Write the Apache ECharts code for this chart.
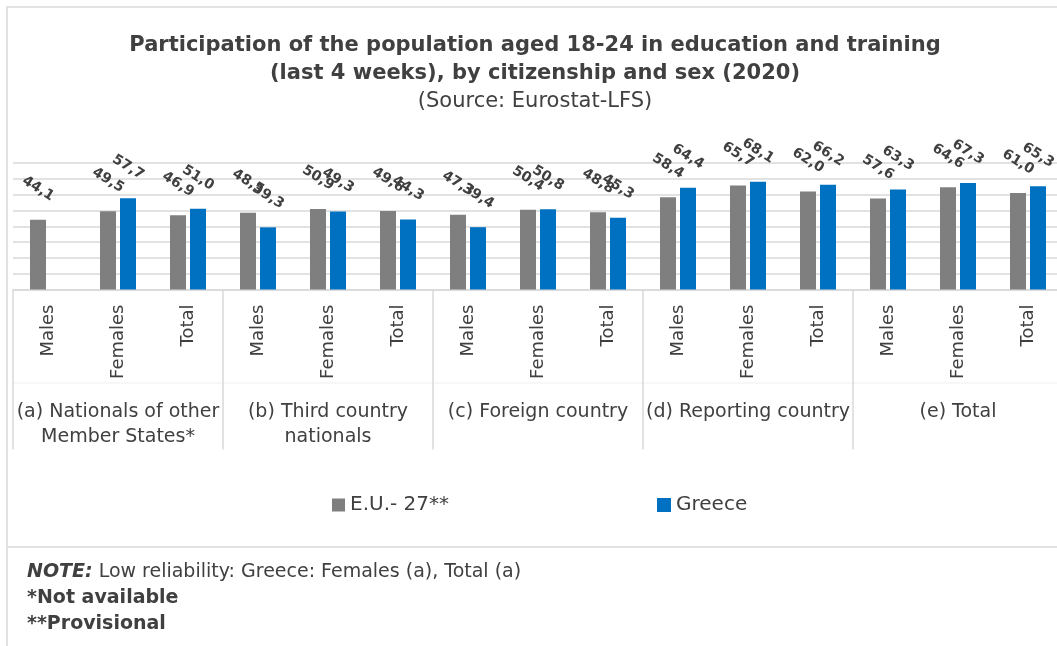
<!DOCTYPE html>
<html>
<head>
<meta charset="utf-8">
<script src="https://cdn.jsdelivr.net/npm/echarts@6/dist/echarts.min.js"></script>
<style>
  html, body { margin: 0; padding: 0; overflow: hidden; background: #fff; }
  #chart { width: 1070px; height: 646px; }
</style>
</head>
<body>
<div id="chart"></div>
<script>
// data
var sexes = ['Males', 'Females', 'Total'];
var groups = ['(a) Nationals of other\nMember States*', '(b) Third country\nnationals', '(c) Foreign country', '(d) Reporting country', '(e) Total'];
var categories = [];
groups.forEach(function () { categories = categories.concat(sexes); });

var euValues = [44.1, 49.5, 46.9, 48.5, 50.9, 49.6, 47.3, 50.4, 48.8, 58.4, 65.7, 62.0, 57.6, 64.6, 61.0];
var greeceValues = ['-', 57.7, 51.0, 39.3, 49.3, 44.3, 39.4, 50.8, 45.3, 64.4, 68.1, 66.2, 63.3, 67.3, 65.3];

var font = 'DejaVu Sans';
var textColor = '#404040';
var lineColor = '#d9d9d9';

var chart = echarts.init(document.getElementById('chart'));

function valueLabel(p) {
    return p.value.toFixed(1).replace('.', ',');
}

var labelStyle = {
    show: true,
    position: 'top',
    distance: 31,
    rotate: -32,
    align: 'center',
    verticalAlign: 'middle',
    color: textColor,
    fontFamily: font,
    fontWeight: 'bold',
    fontSize: 14,
    formatter: valueLabel
};

var legendText = { fontFamily: font, fontSize: 20, color: textColor };

var option = {
    animation: false,
    textStyle: { fontFamily: font },
    title: [
        {
            text: 'Participation of the population aged 18-24 in education and training\n(last 4 weeks), by citizenship and sex (2020)',
            left: 'center',
            top: 27,
            textStyle: { fontFamily: font, fontSize: 21, fontWeight: 'bold', color: textColor, lineHeight: 28 }
        },
        {
            text: '(Source: Eurostat-LFS)',
            left: 'center',
            top: 86,
            textStyle: { fontFamily: font, fontSize: 21, fontWeight: 'normal', color: textColor }
        }
    ],
    legend: [
        {
            left: 327, top: 490, itemWidth: 13, itemHeight: 13, itemGap: 6, icon: 'rect',
            textStyle: legendText, data: ['E.U.- 27**']
        },
        {
            left: 652, top: 490, itemWidth: 14, itemHeight: 14, itemGap: 6, icon: 'rect',
            textStyle: legendText, data: ['Greece']
        }
    ],
    grid: { left: 13, top: 163, width: 1050, height: 126.5 },
    xAxis: [
        {
            type: 'category',
            data: categories,
            axisLine: { lineStyle: { color: lineColor, width: 1.5 } },
            axisTick: {
                show: true,
                length: 160,
                interval: function (index) { return index % 3 === 0; },
                lineStyle: { color: lineColor, width: 1.5 }
            },
            axisLabel: {
                rotate: 90,
                margin: 15,
                interval: 0,
                fontFamily: font,
                fontSize: 18,
                color: textColor
            }
        },
        {
            type: 'category',
            position: 'bottom',
            offset: 100,
            data: groups,
            axisLine: { show: false },
            axisTick: { show: false },
            axisLabel: {
                interval: 0,
                margin: 10,
                fontFamily: font,
                fontSize: 19,
                lineHeight: 25,
                color: textColor
            }
        }
    ],
    yAxis: {
        type: 'value',
        min: 0,
        max: 80,
        interval: 10,
        axisLabel: { show: false },
        axisLine: { show: false },
        axisTick: { show: false },
        splitLine: { lineStyle: { color: lineColor, width: 1.5 } }
    },
    series: [
        {
            name: 'E.U.- 27**',
            type: 'bar',
            data: euValues,
            barWidth: 16,
            barGap: '25%',
            itemStyle: { color: '#7f7f7f' },
            label: labelStyle
        },
        {
            name: 'Greece',
            type: 'bar',
            data: greeceValues,
            barWidth: 16,
            barGap: '25%',
            itemStyle: { color: '#0070c0' },
            label: labelStyle
        }
    ],
    graphic: [
        { type: 'rect', shape: { x: 7, y: 7, width: 1100, height: 700 }, style: { fill: null, stroke: lineColor, lineWidth: 1.5 }, silent: true },
        { type: 'line', shape: { x1: 13, y1: 383, x2: 1063, y2: 383 }, style: { stroke: '#efefef', lineWidth: 1 }, silent: true },
        { type: 'line', shape: { x1: 7, y1: 547, x2: 1070, y2: 547 }, style: { stroke: lineColor, lineWidth: 1.5 }, silent: true },
        {
            type: 'text', left: 27, top: 563,
            style: {
                text: '{ni|NOTE:}{n| Low reliability: Greece: Females (a), Total (a)}\n{b|*Not available}\n{b|**Provisional}',
                rich: {
                    ni: { fontFamily: font, fontSize: 19, fontWeight: 'bold', fontStyle: 'italic', fill: textColor, lineHeight: 26 },
                    n: { fontFamily: font, fontSize: 19, fill: textColor, lineHeight: 26 },
                    b: { fontFamily: font, fontSize: 19, fontWeight: 'bold', fill: textColor, lineHeight: 26 }
                }
            }
        }
    ]
};

chart.setOption(option);
</script>
</body>
</html>
